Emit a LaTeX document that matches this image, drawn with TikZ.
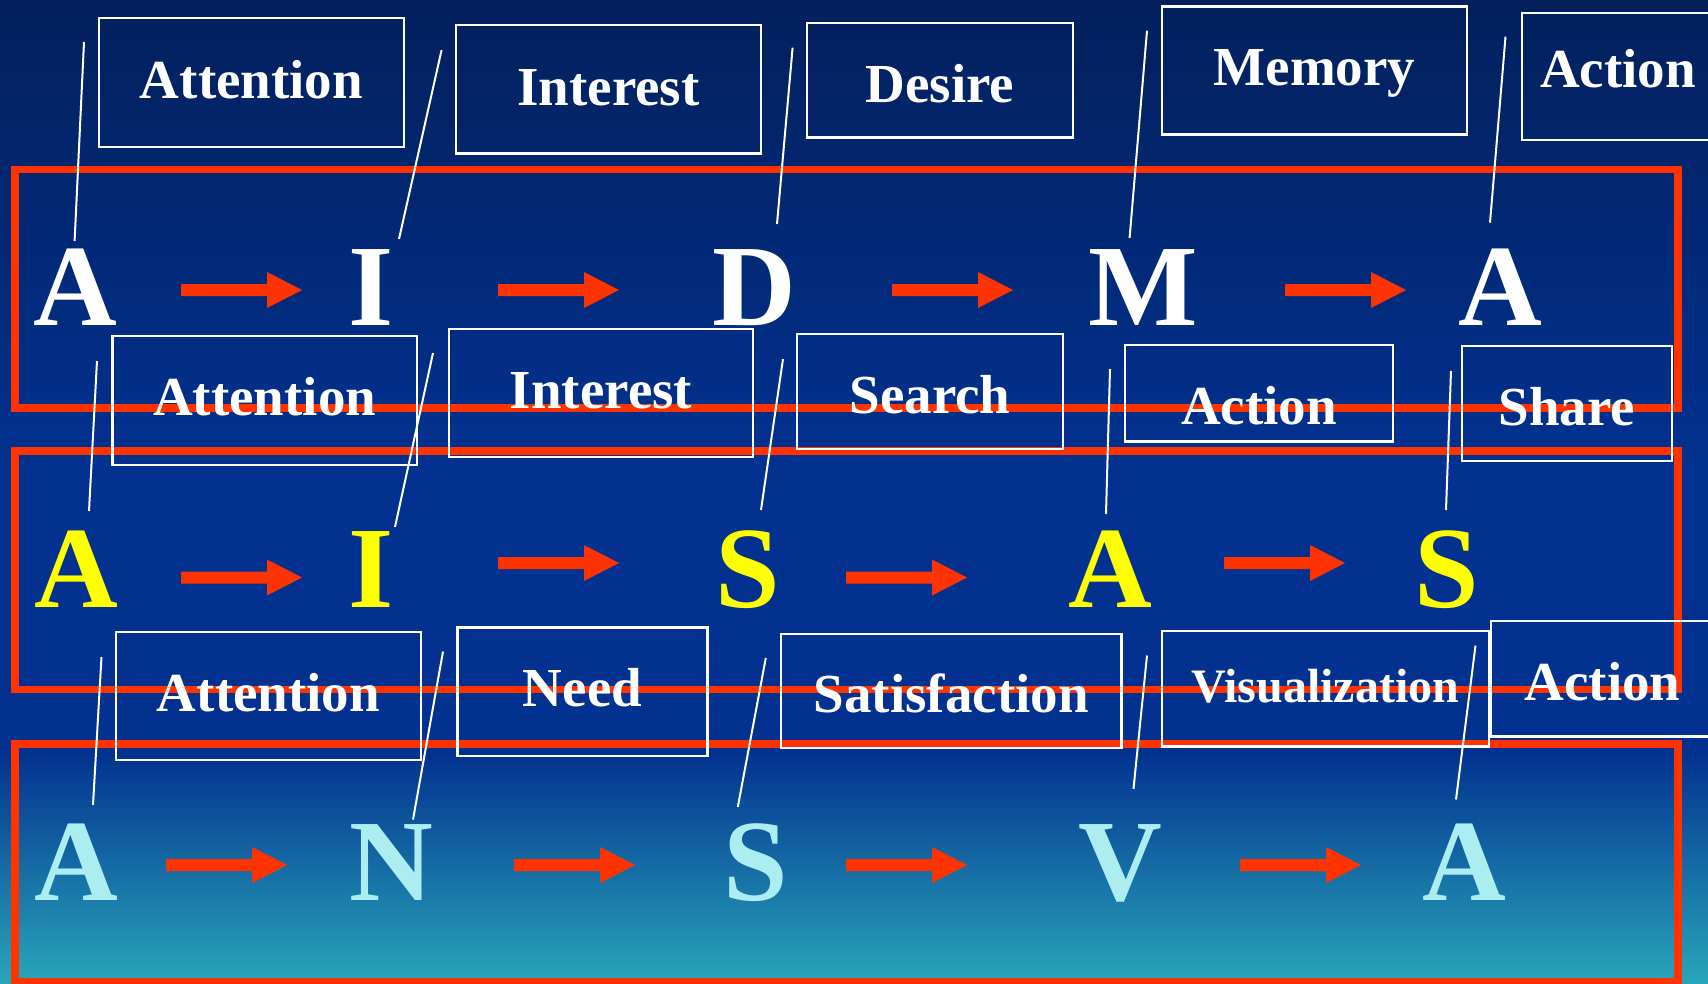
\documentclass[tikz,border=0pt]{standalone}
\usepackage{fontspec}
\setmainfont{Liberation Serif}

\definecolor{navytop}{HTML}{03205C}
\definecolor{navymid}{HTML}{02318F}
\definecolor{tealbot}{HTML}{29A6BA}
\definecolor{flame}{HTML}{FF3300}
\definecolor{ice}{HTML}{ABEDF0}
\definecolor{lemon}{HTML}{FFFF00}

\tikzset{
  frame/.style={draw=flame, line width=7.5pt},
  tagbox/.style={draw=white, line width=2.5pt, rectangle, inner sep=0pt},
  tagtext/.style={text=white, font=\fontsize{55}{60}\selectfont\bfseries, anchor=base, inner sep=0pt},
  leader/.style={draw=white, line width=2pt},
  bigletter/.style={font=\fontsize{116}{120}\selectfont\bfseries, anchor=base, inner sep=0pt},
  pics/blockarrow/.style={code={
    \fill[flame] (0,-6) -- (86,-6) -- (86,-18) -- (121,0) -- (86,18) -- (86,6) -- (0,6) -- cycle;}}
}

\begin{document}
\begin{tikzpicture}[x=1pt, y=-1pt]
  \useasboundingbox (0,0) rectangle (1708,983);
  \clip (0,0) rectangle (1708,983);

  % background
  \fill[top color=navytop, bottom color=navymid] (0,0) rectangle (1708,461);
  \fill[navymid] (0,460) rectangle (1708,752);
  \fill[top color=navymid, bottom color=tealbot] (0,751) rectangle (1708,983);

  % three model frames
  \draw[frame] (15,169.5) rectangle (1678,408);
  \draw[frame] (15,451) rectangle (1678,689.5);
  \draw[frame] (15,744) rectangle (1678,982);

  % AIDMA
  \node[bigletter, text=white] (m1) at (75.5,325) {A};
  \node[bigletter, text=white] (m2) at (371.5,325) {I};
  \node[bigletter, text=white] (m3) at (754.5,325) {D};
  \node[bigletter, text=white] (m4) at (1143,325) {M};
  \node[bigletter, text=white] (m5) at (1500,325) {A};
  \pic at (181,290) {blockarrow};
  \pic at (498,290) {blockarrow};
  \pic at (892,290) {blockarrow};
  \pic at (1285,290) {blockarrow};

  % AISAS
  \node[bigletter, text=lemon] (s1) at (76,607) {A};
  \node[bigletter, text=lemon] (s2) at (371.5,607) {I};
  \node[bigletter, text=lemon] (s3) at (747.5,607) {S};
  \node[bigletter, text=lemon] (s4) at (1110,607) {A};
  \node[bigletter, text=lemon] (s5) at (1446.5,607) {S};
  \pic at (181,577.5) {blockarrow};
  \pic at (498,563) {blockarrow};
  \pic at (846,577.5) {blockarrow};
  \pic at (1224,563) {blockarrow};

  % ANSVA
  \node[bigletter, text=ice] (n1) at (76,900) {A};
  \node[bigletter, text=ice] (n2) at (391,900) {N};
  \node[bigletter, text=ice] (n3) at (756,900) {S};
  \node[bigletter, text=ice] (n4) at (1120,900) {V};
  \node[bigletter, text=ice] (n5) at (1464.5,900) {A};
  \pic at (166,865) {blockarrow};
  \pic at (514,865) {blockarrow};
  \pic at (846,865) {blockarrow};
  \pic at (1240,865) {blockarrow};

  % label boxes, AIDMA
  \node[tagbox, minimum width=305pt, minimum height=129pt] (bm1) at (251.5,82.5) {};
  \node[tagbox, minimum width=305pt, minimum height=128.5pt] (bm2) at (608.5,89.25) {};
  \node[tagbox, minimum width=266pt, minimum height=114.5pt] (bm3) at (940,80.25) {};
  \node[tagbox, minimum width=305pt, minimum height=128pt] (bm4) at (1314.5,70.5) {};
  \node[tagbox, minimum width=192pt, minimum height=127pt] (bm5) at (1618,76.5) {};
  \node[tagtext] (tm1) at (251.5,98) {Attention};
  \node[tagtext] (tm2) at (608.5,105) {Interest};
  \node[tagtext] (tm3) at (940,102) {Desire};
  \node[tagtext] (tm4) at (1314.5,85) {Memory};
  \node[tagtext] (tm5) at (1618,87) {Action};

  % label boxes, AISAS
  \node[tagbox, minimum width=304.5pt, minimum height=129pt] (bs1) at (264.75,400.5) {};
  \node[tagbox, minimum width=304pt, minimum height=128pt] (bs2) at (601,393) {};
  \node[tagbox, minimum width=266pt, minimum height=115pt] (bs3) at (930,391.5) {};
  \node[tagbox, minimum width=268pt, minimum height=96.5pt] (bs4) at (1259,393.25) {};
  \node[tagbox, minimum width=210pt, minimum height=115pt] (bs5) at (1567,403.5) {};
  \node[tagtext] (ts1) at (264.75,415) {Attention};
  \node[tagtext] (ts2) at (601,408) {Interest};
  \node[tagtext] (ts3) at (930,413) {Search};
  \node[tagtext] (ts4) at (1259,424) {Action};
  \node[tagtext] (ts5) at (1567,425) {Share};

  % label boxes, ANSVA
  \node[tagbox, minimum width=305pt, minimum height=128pt] (bn1) at (268.5,696) {};
  \node[tagbox, minimum width=250pt, minimum height=128.5pt] (bn2) at (582.5,691.75) {};
  \node[tagbox, minimum width=340.5pt, minimum height=114pt] (bn3) at (951.25,691) {};
  \node[tagbox, minimum width=327pt, minimum height=115.5pt] (bn4) at (1325.5,688.75) {};
  \node[tagbox, minimum width=223pt, minimum height=115.5pt] (bn5) at (1602.5,678.75) {};
  \node[tagtext] (tn1) at (268.5,711) {Attention};
  \node[tagtext] (tn2) at (582.5,706) {Need};
  \node[tagtext] (tn3) at (951.25,712.5) {Satisfaction};
  \node[tagtext, font=\fontsize{48}{52}\selectfont\bfseries] (tn4) at (1325.5,702) {Visualization};
  \node[tagtext] (tn5) at (1602.5,700) {Action};

  % leader line end points
  \coordinate (um1) at (84,42);      \coordinate (lm1) at (74.6,241);
  \coordinate (um2) at (441.6,50);   \coordinate (lm2) at (399,239);
  \coordinate (um3) at (792.6,47.7); \coordinate (lm3) at (777,224);
  \coordinate (um4) at (1147,30.7);  \coordinate (lm4) at (1129.6,238);
  \coordinate (um5) at (1505.5,36.7);\coordinate (lm5) at (1490,222.7);

  \coordinate (us1) at (97,361);     \coordinate (ls1) at (89,511);
  \coordinate (us2) at (433,353);    \coordinate (ls2) at (395,527);
  \coordinate (us3) at (783,359);    \coordinate (ls3) at (761,510);
  \coordinate (us4) at (1110,369);   \coordinate (ls4) at (1106,514);
  \coordinate (us5) at (1451,371);   \coordinate (ls5) at (1446,510);

  \coordinate (un1) at (101.5,657);  \coordinate (ln1) at (93,805);
  \coordinate (un2) at (443,651.6);  \coordinate (ln2) at (413,819.6);
  \coordinate (un3) at (765.8,658);  \coordinate (ln3) at (737.8,807);
  \coordinate (un4) at (1147,655.5); \coordinate (ln4) at (1133.5,788.8);
  \coordinate (un5) at (1475.5,645.5);\coordinate (ln5) at (1456,799.5);

  \foreach \r in {m,s,n}{
    \foreach \k in {1,...,5}{
      \draw[leader] (u\r\k) -- (l\r\k);
    }
  }
\end{tikzpicture}
\end{document}
